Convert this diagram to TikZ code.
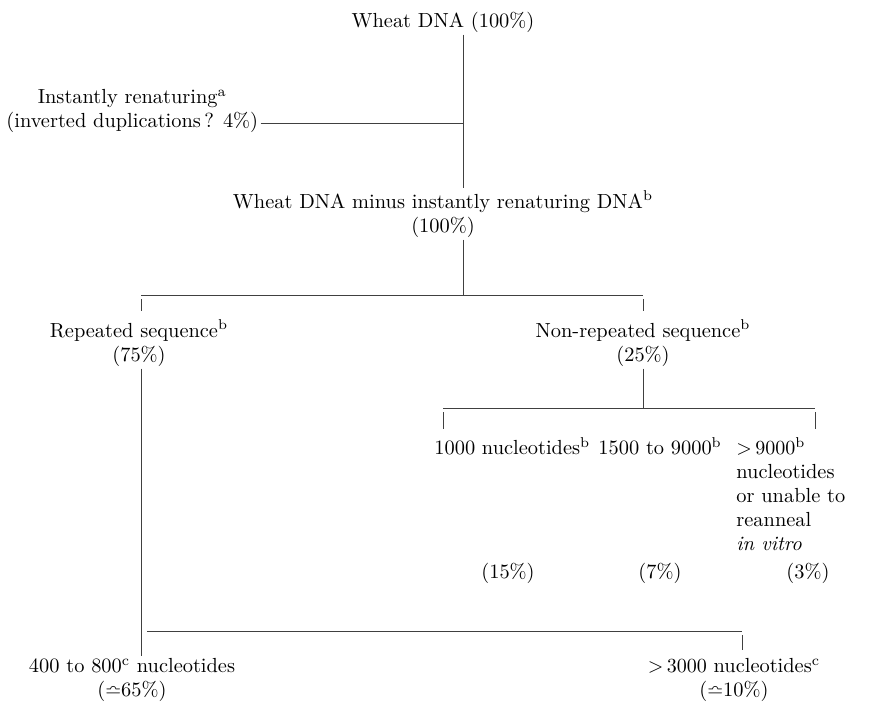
\documentclass[tikz,border=0pt]{standalone}
\usepackage{amsmath,amssymb}
\usetikzlibrary{positioning,calc}

\begin{document}
\begin{tikzpicture}[
    x=0.5pt, y=-0.5pt,
    txt/.style={inner sep=1pt, align=center, font=\fontsize{10.2}{12}\selectfont},
    link/.style={draw=black!75, line width=0.45pt}
]
\useasboundingbox (0,0) rectangle (878,703);

% Top
\node[txt] (wheat) at (443,22) {Wheat DNA (100\%)};
\node[txt, anchor=west] (instant) at (4,111) {Instantly renaturing\textsuperscript{a}\\(inverted duplications\,? 4\%)};

% Wheat DNA minus instantly renaturing
\node[txt] (minus) at (443,214) {Wheat DNA minus instantly renaturing DNA\textsuperscript{b}\\(100\%)};

% Repeated / non-repeated
\node[txt] (rep) at (139,343) {Repeated sequence\textsuperscript{b}\\(75\%)};
\node[txt] (nonrep) at (643,343) {Non-repeated sequence\textsuperscript{b}\\(25\%)};

% Non-repeated classes
\node[txt, anchor=west] (short) at (432,446) {1000 nucleotides\textsuperscript{b}};
\node[txt, anchor=west] (mid) at (596,446) {1500 to 9000\textsuperscript{b}};
\node[txt, anchor=north west, align=left] (long) at (734,435) {${>}\,9000$\textsuperscript{b}\\nucleotides\\or unable to\\reanneal\\\textit{in vitro}};
\node[txt] (shortpc) at (508,573) {(15\%)};
\node[txt] (midpc) at (660,573) {(7\%)};
\node[txt] (longpc) at (808,573) {(3\%)};

% Repeated classes
\node[txt] (fast) at (132,680) {400 to 800\textsuperscript{c} nucleotides\\($\bumpeq$65\%)};
\node[txt] (slow) at (734,680) {${>}\,3000$ nucleotides\textsuperscript{c}\\($\bumpeq$10\%)};

% Branch points
\coordinate (split1) at (463,123);
\coordinate (split2) at (463,295);
\coordinate (lbar) at (141,295);
\coordinate (rbar) at (643,295);
\coordinate (sbar) at (643,408);
\coordinate (sbarL) at (443,408);
\coordinate (sbarR) at (815,408);
\coordinate (bbar) at (141,631);
\coordinate (bbarR) at (742,631);

% Lines — top
\draw[link] (wheat.south -| split1) -- (minus.north -| split1);
\draw[link] (instant.east |- split1) -- (split1);

% Lines — first split
\draw[link] (minus.south -| split2) -- (split2);
\draw[link] (lbar) -- (rbar);
\draw[link, shorten <=2pt, shorten >=3pt] (lbar) -- (rep.north -| lbar);
\draw[link, shorten <=2pt, shorten >=3pt] (rbar) -- (nonrep.north -| rbar);

% Lines — non-repeated
\draw[link] (nonrep.south) -- (sbar);
\draw[link] (sbarL) -- (sbarR);
\draw[link, shorten <=2pt, shorten >=3pt] (sbarL) -- (short.north -| sbarL);
\draw[link, shorten <=2pt, shorten >=3pt] (sbarR) -- (long.north -| sbarR);

% Lines — repeated
\draw[link] (rep.south -| lbar) -- (fast.north -| lbar);
\draw[link, shorten <=3pt] (bbar) -- (bbarR);
\draw[link, shorten <=2pt, shorten >=3pt] (bbarR) -- (slow.north -| bbarR);

\end{tikzpicture}
\end{document}
